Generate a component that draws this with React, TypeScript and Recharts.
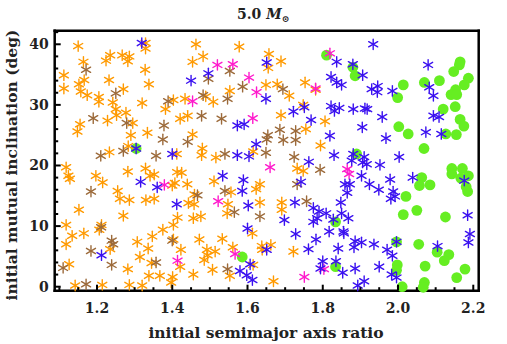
import React from 'react';
import { ScatterChart, Scatter, XAxis, YAxis } from 'recharts';

const TITLE_MAIN = '5.0 ';
const TITLE_SYMBOL = 'M';
const TITLE_SUB = '⊙';
const X_LABEL = 'initial semimajor axis ratio';
const Y_LABEL = 'initial mutual inclination (deg)';

const X_TICKS = [1.1, 1.15, 1.2, 1.25, 1.3, 1.35, 1.4, 1.45, 1.5, 1.55, 1.6, 1.65, 1.7, 1.75, 1.8, 1.85, 1.9, 1.95, 2.0, 2.05, 2.1, 2.15, 2.2];
const X_MAJOR = [1.2, 1.4, 1.6, 1.8, 2.0, 2.2];
const Y_TICKS = [0, 2, 4, 6, 8, 10, 12, 14, 16, 18, 20, 22, 24, 26, 28, 30, 32, 34, 36, 38, 40, 42];
const Y_MAJOR = [0, 10, 20, 30, 40];

const ORANGE: [number, number][] = [
  [1.150,39.7],[1.329,40.2],[1.329,39.3],[1.463,40.0],[1.235,38.2],[1.267,38.2],[1.286,38.0],[1.282,37.2],[1.224,37.3],[1.164,37.1],[1.454,37.1],[1.482,38.0],[1.328,35.8],[1.112,34.9],[1.232,34.1],[1.166,34.1],[1.338,33.4],[1.152,33.4],[1.112,32.7],[1.157,32.2],[1.174,31.6],[1.270,32.6],[1.205,31.3],[1.205,30.5],[1.242,30.4],[1.320,30.3],[1.403,30.8],[1.434,31.0],[1.489,31.4],[1.250,29.3],[1.252,28.3],[1.277,28.7],[1.382,29.3],[1.228,27.4],[1.295,27.0],[1.421,27.7],[1.441,28.2],[1.155,26.8],[1.148,25.6],[1.334,25.4],[1.290,25.0],[1.454,25.1],[1.480,22.8],[1.283,23.2],[1.233,22.2],[1.412,21.9],[1.478,21.7],
  [1.578,39.6],[1.657,38.4],[1.655,36.1],[1.689,37.2],[1.753,33.7],[1.649,33.3],[1.679,33.4],[1.553,32.3],[1.509,30.5],[1.711,31.5],[1.748,30.0],[1.689,28.3],[1.806,27.3],[1.755,26.0],[1.794,23.3],[1.615,22.3],[1.516,21.3],[1.781,32.5],
  [1.732,19.5],[1.748,19.1],[1.511,17.4],[1.633,16.9],[1.623,16.1],[1.556,15.6],[1.548,13.6],[1.546,12.1],[1.633,13.9],[1.691,13.9],[1.691,12.7],[1.613,8.8],[1.533,7.9],[1.561,6.5],[1.514,5.8],[1.638,6.7],[1.639,6.1],[1.662,6.9],[1.722,5.8],[1.615,3.6],[1.507,2.8],[1.553,1.8],[1.669,0.9],
  [1.118,19.7],[1.124,18.3],[1.128,17.8],[1.197,18.3],[1.215,17.2],[1.282,19.0],[1.329,19.5],[1.341,18.3],[1.352,18.5],[1.413,18.9],[1.425,18.8],[1.400,16.7],[1.407,17.1],[1.440,16.9],[1.255,15.8],[1.261,14.5],[1.286,14.3],[1.330,14.3],[1.352,14.5],[1.459,15.2],[1.443,13.8],[1.458,13.6],[1.152,12.7],[1.270,11.7],[1.414,11.4],[1.456,11.3],[1.476,11.6],[1.118,10.2],[1.212,10.2],[1.206,9.4],[1.403,10.2],[1.375,9.4],[1.134,8.4],[1.165,8.8],[1.347,8.3],[1.307,7.4],[1.472,7.8],[1.118,7.0],[1.235,6.2],[1.336,6.3],[1.423,6.1],[1.492,6.1],[1.494,5.2],[1.314,4.9],[1.345,3.9],[1.421,3.3],[1.485,4.4],[1.126,3.7],[1.282,2.9],[1.338,1.8],[1.367,1.8],[1.401,1.6],[1.397,0.7],[1.456,2.0],[1.142,0.2],[1.214,0.3],[1.286,0.3],[1.320,0.2],[1.403,7.8]
];

const BROWN: [number, number][] = [
  [1.171,35.8],[1.250,31.9],[1.389,30.6],[1.482,31.6],[1.190,27.8],[1.279,27.0],[1.478,28.2],[1.378,26.6],[1.375,24.3],[1.441,23.9],[1.270,22.4],[1.210,21.6],[1.357,21.6],[1.496,34.3],[1.553,35.6],[1.694,32.6],[1.587,33.0],[1.547,31.0],[1.531,27.7],[1.686,25.9],[1.728,25.7],[1.654,25.0],[1.651,24.3],[1.695,24.2],[1.728,24.2],[1.540,21.9],[1.649,22.1],[1.724,21.4],[1.793,19.3],[1.540,15.8],[1.732,16.9],[1.565,12.3],[1.757,14.1],[1.633,11.6],[1.547,2.9],[1.184,15.7],[1.467,15.1],[1.211,9.8],[1.239,7.6],[1.243,7.0],[1.400,7.6],[1.184,5.9],[1.357,4.0],[1.239,3.6],[1.110,3.1],[1.171,0.4]
];

const MAGENTA: [number, number][] = [
  [1.454,30.6],[1.819,38.5],[1.520,36.6],[1.561,36.7],[1.604,34.5],[1.624,32.1],[1.781,32.7],[1.614,27.8],[1.379,16.8],[1.660,19.7],[1.865,19.4],[1.870,18.6],[1.522,14.1],[1.567,5.4],[1.751,1.6],[1.414,4.3],[1.803,2.9]
];

const BLUE: [number, number][] = [
  [1.319,40.2],[1.450,34.0],[1.496,35.2],[1.304,22.8],[1.400,21.9],[1.837,37.1],[1.651,37.0],[1.822,34.6],[1.837,33.7],[1.850,33.3],[1.649,31.0],[1.751,29.6],[1.822,29.8],[1.831,29.0],[1.844,29.5],[1.722,28.9],[1.769,27.5],[1.573,26.6],[1.591,26.8],[1.819,24.9],[1.623,23.5],[1.573,21.7],[1.604,21.5],[1.763,20.6],[1.830,21.7],
  [1.934,40.0],[1.880,36.7],[1.906,34.9],[1.946,33.1],[1.930,32.6],[1.945,32.1],[1.985,32.3],[2.080,36.6],[2.083,32.9],[2.094,31.5],[2.094,28.2],[2.109,28.0],[2.074,25.5],[2.115,25.2],[1.968,24.5],[1.958,28.0],[1.905,26.3],[1.881,29.3],[1.912,29.4],[1.918,29.3],[1.881,21.9],[1.910,21.4],[2.003,21.4],[1.906,20.5],[1.917,20.2],[1.877,20.8],[1.952,20.1],[1.903,18.3],[1.859,16.9],[1.872,16.9],[1.924,16.9],[1.979,17.7],[2.039,18.0],[2.176,17.5],[1.865,15.5],[1.949,16.0],[1.987,15.7],[1.992,14.9],[1.981,14.5],[1.848,13.9],[1.850,12.1],[1.868,11.3],[2.185,11.8],[1.855,9.1],[1.856,8.8],[2.191,8.7],[2.187,7.3],[1.886,7.5],[1.883,6.5],[1.903,7.3],[1.936,7.0],[2.105,6.7],[1.971,6.1],[1.985,5.1],[1.950,3.3],[1.886,3.0],[1.853,2.3],[1.983,2.0],[1.996,1.5],[1.910,0.9],[1.893,0.2],[1.996,7.4],
  [1.534,18.3],[1.589,17.6],[1.586,15.8],[1.742,17.3],[1.602,13.4],[1.726,13.9],[1.775,13.0],[1.790,12.4],[1.809,12.1],[1.698,11.0],[1.775,10.7],[1.785,11.3],[1.828,11.1],[1.600,9.6],[1.728,8.7],[1.817,9.1],[1.782,7.8],[1.651,6.1],[1.762,6.2],[1.841,6.3],[1.607,3.7],[1.800,4.2],[1.835,4.2],[1.794,3.0],[1.580,2.6],[1.598,1.9],[1.613,1.1],[1.316,17.3],[1.360,16.4],[1.412,13.6],[1.212,5.2]
];

const GREEN: [number, number][] = [
  [1.304,22.8],[1.810,38.2],[1.880,36.2],[1.886,34.8],[2.014,33.3],[1.999,31.2],[2.070,33.7],[2.110,34.0],[2.165,37.1],[2.163,36.6],[2.148,35.5],[2.187,34.4],[2.176,33.3],[2.153,32.5],[2.141,31.7],[2.156,31.7],[2.120,29.3],[2.152,29.7],[2.165,27.6],[2.175,26.5],[2.002,26.4],[2.027,25.2],[2.127,25.2],[2.155,25.1],[2.069,22.8],[1.890,21.9],[2.063,18.0],[2.057,16.7],[2.085,16.8],[2.143,19.5],[2.143,18.6],[2.171,19.5],[2.187,18.3],[2.167,17.9],[2.181,16.5],[2.185,15.7],[2.021,14.9],[2.014,11.9],[2.050,12.6],[2.126,11.5],[1.996,7.4],[2.055,7.0],[2.104,5.7],[2.135,5.3],[2.123,4.3],[1.998,3.6],[1.996,2.7],[2.072,3.4],[2.178,2.9],[2.156,1.5],[2.011,0.0],[2.070,0.7],[2.067,-0.1],[1.586,4.9],[1.834,10.7],[1.834,3.3]
];

const toPts = (arr: [number, number][]) => arr.map(([x, y]) => ({ x, y }));

const FONT = '"DejaVu Serif", serif';

const makeStar = (color: string) => (props: any) => {
  const { cx, cy } = props;
  if (cx == null || cy == null) return <g />;
  const r = 5.2;
  const c = r * Math.cos(Math.PI / 6);
  const s = r * Math.sin(Math.PI / 6);
  return (
    <g stroke={color} strokeWidth={1.4} strokeLinecap="round">
      <line x1={cx} y1={cy - r} x2={cx} y2={cy + r} />
      <line x1={cx - c} y1={cy - s} x2={cx + c} y2={cy + s} />
      <line x1={cx - c} y1={cy + s} x2={cx + c} y2={cy - s} />
    </g>
  );
};

const Dot = (props: any) => {
  const { cx, cy } = props;
  if (cx == null || cy == null) return <g />;
  return <circle cx={cx} cy={cy} r={5.4} fill="#66EE22" />;
};

const isMaj = (v: number, list: number[]) => list.some((m) => Math.abs(m - v) < 1e-6);

const BottomTick = (props: any) => {
  const { x, y, payload } = props;
  const v = payload.value;
  const maj = isMaj(v, X_MAJOR);
  return (
    <g>
      <line x1={x} y1={y} x2={x} y2={y - (maj ? 6 : 3.5)} stroke="#000" strokeWidth={2} />
      {maj && (
        <text x={x} y={y + 22} textAnchor="middle" fontFamily={FONT} fontWeight="bold" fontSize={14} fill="#222">
          {v.toFixed(1)}
        </text>
      )}
    </g>
  );
};

const TopTick = (props: any) => {
  const { x, y, payload } = props;
  const maj = isMaj(payload.value, X_MAJOR);
  return <line x1={x} y1={y} x2={x} y2={y + (maj ? 6 : 3.5)} stroke="#000" strokeWidth={2} />;
};

const LeftTick = (props: any) => {
  const { x, y, payload } = props;
  const v = payload.value;
  const maj = isMaj(v, Y_MAJOR);
  return (
    <g>
      <line x1={x} y1={y} x2={x + (maj ? 6 : 3.5)} y2={y} stroke="#000" strokeWidth={2} />
      {maj && (
        <text x={x - 6} y={y + 5} textAnchor="end" fontFamily={FONT} fontWeight="bold" fontSize={14} fill="#222">
          {String(v)}
        </text>
      )}
    </g>
  );
};

const RightTick = (props: any) => {
  const { x, y, payload } = props;
  const maj = isMaj(payload.value, Y_MAJOR);
  return <line x1={x} y1={y} x2={x - (maj ? 6 : 3.5)} y2={y} stroke="#000" strokeWidth={2} />;
};

const W = 507;
const H = 344;
const axisLine = { stroke: '#000', strokeWidth: 2.5, strokeLinecap: 'square' as const };

export default function App() {
  return (
    <div style={{ position: 'relative', width: W, height: H, background: '#fff' }}>
      <style>{'body{margin:0;background:#fff}'}</style>
      <ScatterChart width={W} height={H} margin={{ top: 29.7, right: 27.3, bottom: 52.3, left: 53.7 }}>
        <XAxis xAxisId="b" type="number" dataKey="x" domain={[1.0876, 2.2144]} ticks={X_TICKS} interval={0}
          orientation="bottom" height={1} tickSize={0} tickMargin={0} tick={<BottomTick />} axisLine={axisLine} />
        <XAxis xAxisId="t" type="number" dataKey="x" domain={[1.0876, 2.2144]} ticks={X_TICKS} interval={0}
          orientation="top" height={1} tickSize={0} tickMargin={0} tick={<TopTick />} axisLine={axisLine} />
        <YAxis yAxisId="l" type="number" dataKey="y" domain={[-0.66, 42.24]} ticks={Y_TICKS} interval={0}
          orientation="left" width={1} tickSize={0} tickMargin={0} tick={<LeftTick />} axisLine={axisLine} />
        <YAxis yAxisId="r" type="number" dataKey="y" domain={[-0.66, 42.24]} ticks={Y_TICKS} interval={0}
          orientation="right" width={1} tickSize={0} tickMargin={0} tick={<RightTick />} axisLine={axisLine} />
        <Scatter xAxisId="b" yAxisId="l" data={toPts(GREEN)} shape={<Dot />} isAnimationActive={false} />
        <Scatter xAxisId="b" yAxisId="l" data={toPts(ORANGE)} shape={makeStar('#FF9A00')} isAnimationActive={false} />
        <Scatter xAxisId="b" yAxisId="l" data={toPts(BROWN)} shape={makeStar('#9C6A3A')} isAnimationActive={false} />
        <Scatter xAxisId="b" yAxisId="l" data={toPts(MAGENTA)} shape={makeStar('#FF1ACC')} isAnimationActive={false} />
        <Scatter xAxisId="b" yAxisId="l" data={toPts(BLUE)} shape={makeStar('#3A10F0')} isAnimationActive={false} />
      </ScatterChart>
      <svg width={W} height={H} style={{ position: 'absolute', left: 0, top: 0, pointerEvents: 'none' }}>
        <text x={237} y={19} fontFamily={FONT} fontWeight="bold" fontSize={14} fill="#222">
          {TITLE_MAIN}
          <tspan fontStyle="italic">{TITLE_SYMBOL}</tspan>
          <tspan fontSize={9} dy={3}>{TITLE_SUB}</tspan>
        </text>
        <text x={266} y={338} textAnchor="middle" fontFamily={FONT} fontWeight="bold" fontSize={15.5} fill="#222">
          {X_LABEL}
        </text>
        <text transform="translate(17,165) rotate(-90)" textAnchor="middle" fontFamily={FONT} fontWeight="bold" fontSize={15.5} fill="#222">
          {Y_LABEL}
        </text>
      </svg>
    </div>
  );
}
